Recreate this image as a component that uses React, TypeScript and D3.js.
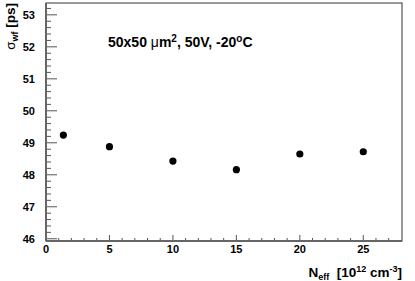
import React, { useEffect, useRef } from 'react';
import * as d3 from 'd3';

// fluence points and timing resolution
const nEff = [1.37, 5, 10, 15, 20, 25];
const sigmaWf = [49.24, 48.88, 48.43, 48.16, 48.65, 48.72];
const xTicks = [0, 5, 10, 15, 20, 25];
const yTicks = [46, 47, 48, 49, 50, 51, 52, 53];

export default function App() {
    const svgRef = useRef<SVGSVGElement>(null);

    const width = 415;
    const height = 281;
    const margin = { top: 3, right: 13, bottom: 40, left: 46 };
    const innerWidth = width - margin.left - margin.right;
    const innerHeight = height - margin.top - margin.bottom;

    useEffect(() => {
        const svg = d3.select(svgRef.current);
        svg.selectAll('*').remove();

        const font = 'Liberation Sans, Arial, Helvetica, sans-serif';

        const xScale = d3.scaleLinear().domain([0, 28.05]).range([0, innerWidth]);
        const yScale = d3.scaleLinear().domain([45.93, 53.37]).range([innerHeight, 0]);

        const g = svg.append('g')
            .attr('transform', `translate(${margin.left}, ${margin.top})`);

        // frame
        g.append('rect')
            .attr('width', innerWidth)
            .attr('height', innerHeight)
            .attr('fill', 'white')
            .attr('stroke', '#333')
            .attr('stroke-width', 1);

        // minor ticks
        const xMinor = d3.range(0, 28, 1);
        g.selectAll('.xminor')
            .data(xMinor)
            .enter()
            .append('line')
            .attr('x1', d => xScale(d))
            .attr('x2', d => xScale(d))
            .attr('y1', innerHeight)
            .attr('y2', d => innerHeight - (d % 5 === 0 ? 6 : 3))
            .attr('stroke', '#555');

        const yMinor = d3.range(46, 53.4, 0.2);
        g.selectAll('.yminor')
            .data(yMinor)
            .enter()
            .append('line')
            .attr('x1', 0)
            .attr('x2', d => (Math.abs(d - Math.round(d)) < 0.01 ? 11 : 5))
            .attr('y1', d => yScale(d))
            .attr('y2', d => yScale(d))
            .attr('stroke', '#555');

        // axis lines
        g.append('line')
            .attr('x1', 0).attr('x2', innerWidth)
            .attr('y1', innerHeight).attr('y2', innerHeight)
            .attr('stroke', '#666').attr('stroke-width', 2);
        g.append('line')
            .attr('x1', 0).attr('x2', 0)
            .attr('y1', 0).attr('y2', innerHeight)
            .attr('stroke', '#666').attr('stroke-width', 2);

        // tick labels
        g.selectAll('.xlab')
            .data(xTicks)
            .enter()
            .append('text')
            .attr('x', d => xScale(d))
            .attr('y', innerHeight + 12)
            .attr('text-anchor', 'middle')
            .attr('font-family', font)
            .attr('font-weight', 'bold')
            .attr('font-size', 11)
            .text(d => d);

        g.selectAll('.ylab')
            .data(yTicks)
            .enter()
            .append('text')
            .attr('x', -11)
            .attr('y', d => yScale(d) + 4)
            .attr('text-anchor', 'end')
            .attr('font-family', font)
            .attr('font-weight', 'bold')
            .attr('font-size', 11)
            .text(d => d);

        // points
        g.selectAll('.pt')
            .data(nEff)
            .enter()
            .append('circle')
            .attr('cx', d => xScale(d))
            .attr('cy', (d, i) => yScale(sigmaWf[i]))
            .attr('r', 3.6)
            .attr('fill', 'black');

        // annotation
        const ann = g.append('text')
            .attr('x', 62)
            .attr('y', 44)
            .attr('font-family', font)
            .attr('font-weight', 'bold')
            .attr('font-size', 14);
        ann.append('tspan').text('50x50 ');
        ann.append('tspan').attr('font-weight', 'normal').text('μ');
        ann.append('tspan').text('m');
        ann.append('tspan').attr('font-size', 10).attr('dy', -5).text('2');
        ann.append('tspan').attr('dy', 5).text(', 50V, -20');
        ann.append('tspan').attr('font-size', 10).attr('dy', -5).text('o');
        ann.append('tspan').attr('dy', 5).text('C');

        // x title
        const xt = svg.append('text')
            .attr('x', margin.left + innerWidth)
            .attr('y', 277)
            .attr('text-anchor', 'end')
            .attr('font-family', font)
            .attr('font-weight', 'bold')
            .attr('font-size', 13.5);
        xt.append('tspan').text('N');
        xt.append('tspan').attr('font-size', 9).attr('dy', 3).text('eff');
        xt.append('tspan').attr('dy', -3).text('\u00a0\u00a0[10');
        xt.append('tspan').attr('font-size', 9).attr('dy', -5).text('12');
        xt.append('tspan').attr('dy', 5).text(' cm');
        xt.append('tspan').attr('font-size', 9).attr('dy', -5).text('-3');
        xt.append('tspan').attr('dy', 5).text(']');

        // y title
        const yt = svg.append('text')
            .attr('transform', `translate(15, 3) rotate(-90)`)
            .attr('text-anchor', 'end')
            .attr('font-family', font)
            .attr('font-weight', 'bold')
            .attr('font-size', 13.5);
        yt.append('tspan').attr('font-weight', 'normal').text('σ');
        yt.append('tspan').attr('font-size', 9).attr('dy', 3).text('wf');
        yt.append('tspan').attr('dy', -3).text(' [ps]');
    }, []);

    return (
        <svg ref={svgRef} width={width} height={height}
            style={{ position: 'absolute', left: 0, top: 0, background: 'white' }} />
    );
}
